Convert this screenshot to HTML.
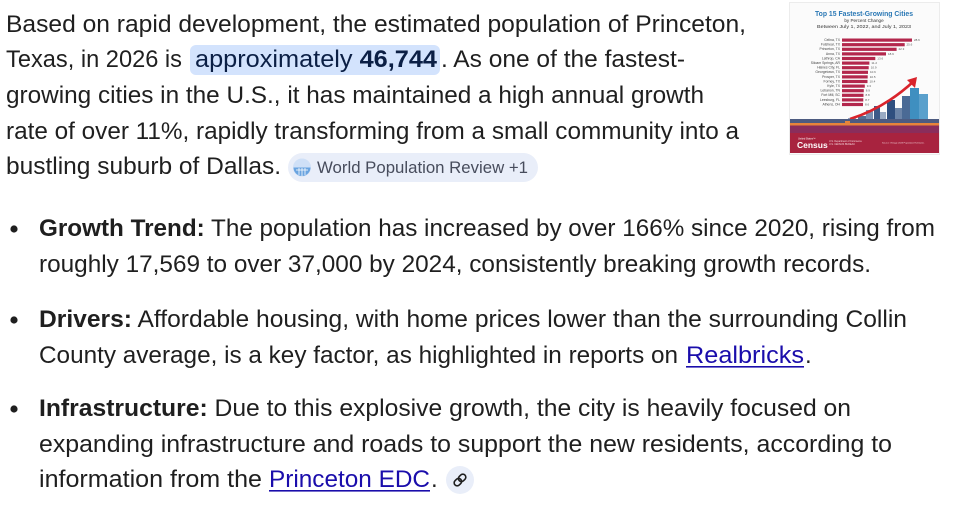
<!DOCTYPE html>
<html>
<head>
<meta charset="utf-8">
<style>
  html,body{margin:0;padding:0;background:#fff;}
  body{width:969px;height:521px;overflow:hidden;}
  svg{display:block;}
  .t{font-family:"Liberation Sans",Arial,sans-serif;font-size:24px;fill:#1f1f1f;}
  .b{font-weight:bold;}
  .lk{fill:#1a0dab;}
  .hl{fill:#0b1f45;}
  .chip{font-family:"Liberation Sans",Arial,sans-serif;font-size:17px;fill:#474c5c;}
  .tiny{font-family:"Liberation Sans",Arial,sans-serif;}
</style>
</head>
<body>
<svg width="969" height="521" viewBox="0 0 969 521" xmlns="http://www.w3.org/2000/svg">
  <!-- Paragraph -->
  <text class="t" x="6" y="32" textLength="740" lengthAdjust="spacingAndGlyphs">Based on rapid development, the estimated population of Princeton,</text>

  <text class="t" x="6" y="67" textLength="176" lengthAdjust="spacingAndGlyphs">Texas, in 2026 is</text>
  <rect x="190" y="45" width="250" height="30" rx="6" fill="#d3e3fd"/>
  <text class="t hl" x="195" y="67" textLength="242" lengthAdjust="spacingAndGlyphs">approximately <tspan class="b">46,744</tspan></text>
  <text class="t" x="441" y="67" textLength="244" lengthAdjust="spacingAndGlyphs">. As one of the fastest-</text>

  <text class="t" x="6" y="103" textLength="698" lengthAdjust="spacingAndGlyphs">growing cities in the U.S., it has maintained a high annual growth</text>
  <text class="t" x="6" y="139" textLength="733" lengthAdjust="spacingAndGlyphs">rate of over 11%, rapidly transforming from a small community into a</text>
  <text class="t" x="6" y="174" textLength="275" lengthAdjust="spacingAndGlyphs">bustling suburb of Dallas.</text>

  <!-- chip -->
  <rect x="288" y="153" width="250" height="29" rx="14.5" fill="#e9eef9"/>
  <g>
    <circle cx="302" cy="167.5" r="9" fill="#cfe0f7"/>
    <path d="M293.5 167.5 A8.5 8.5 0 0 0 310.5 167.5 Z" fill="#6aa4e0"/>
    <line x1="296" y1="170" x2="308" y2="170" stroke="#fff" stroke-width="0.8"/>
    <line x1="299" y1="168" x2="299" y2="175" stroke="#fff" stroke-width="0.8"/>
    <line x1="302" y1="168" x2="302" y2="176" stroke="#fff" stroke-width="0.8"/>
    <line x1="305" y1="168" x2="305" y2="175" stroke="#fff" stroke-width="0.8"/>
  </g>
  <text class="chip" x="317" y="173" textLength="211" lengthAdjust="spacingAndGlyphs">World Population Review +1</text>

  <!-- Bullet 1 -->
  <circle cx="14" cy="229" r="3.6" fill="#1f1f1f"/>
  <text class="t" x="39" y="236" textLength="896" lengthAdjust="spacingAndGlyphs"><tspan class="b">Growth Trend:</tspan> The population has increased by over 166% since 2020, rising from</text>
  <text class="t" x="39" y="272" textLength="832" lengthAdjust="spacingAndGlyphs">roughly 17,569 to over 37,000 by 2024, consistently breaking growth records.</text>

  <!-- Bullet 2 -->
  <circle cx="14" cy="320" r="3.6" fill="#1f1f1f"/>
  <text class="t" x="39" y="327" textLength="868" lengthAdjust="spacingAndGlyphs"><tspan class="b">Drivers:</tspan> Affordable housing, with home prices lower than the surrounding Collin</text>
  <text class="t" x="39" y="363" textLength="639" lengthAdjust="spacingAndGlyphs">County average, is a key factor, as highlighted in reports on</text>
  <text class="t lk" x="686" y="363" textLength="118" lengthAdjust="spacingAndGlyphs">Realbricks</text>
  <rect x="686" y="366" width="118" height="1.6" fill="#1a0dab"/>
  <text class="t" x="805" y="363">.</text>

  <!-- Bullet 3 -->
  <circle cx="14" cy="409" r="3.6" fill="#1f1f1f"/>
  <text class="t" x="39" y="416" textLength="812" lengthAdjust="spacingAndGlyphs"><tspan class="b">Infrastructure:</tspan> Due to this explosive growth, the city is heavily focused on</text>
  <text class="t" x="39" y="452" textLength="853" lengthAdjust="spacingAndGlyphs">expanding infrastructure and roads to support the new residents, according to</text>
  <text class="t" x="39" y="487" textLength="223" lengthAdjust="spacingAndGlyphs">information from the</text>
  <text class="t lk" x="269" y="487" textLength="161" lengthAdjust="spacingAndGlyphs">Princeton EDC</text>
  <rect x="269" y="490" width="161" height="1.6" fill="#1a0dab"/>
  <text class="t" x="431" y="487">.</text>

  <!-- link icon chip -->
  <circle cx="460" cy="480" r="14" fill="#e9eef9"/>
  <g transform="translate(460,480) rotate(-45)" fill="none" stroke="#1f1f1f" stroke-width="1.6">
    <rect x="-7" y="-3" width="8" height="6" rx="3"/>
    <rect x="-1" y="-3" width="8" height="6" rx="3"/>
  </g>

  <!-- Thumbnail -->
  <g>
    <rect x="789.5" y="2.5" width="150" height="152" fill="#fbfbfb" stroke="#ececec"/>
    <text class="tiny" x="864" y="16" font-size="7" font-weight="bold" fill="#2a78b5" text-anchor="middle" textLength="98" lengthAdjust="spacingAndGlyphs">Top 15 Fastest-Growing Cities</text>
    <text class="tiny" x="864" y="22" font-size="4.6" fill="#333" text-anchor="middle">by Percent Change</text>
    <text class="tiny" x="864" y="28" font-size="4.6" fill="#333" text-anchor="middle" textLength="94" lengthAdjust="spacingAndGlyphs">Between July 1, 2022, and July 1, 2023</text>
    <g font-size="3.4" class="tiny" fill="#444">
      <text x="840" y="41" text-anchor="end">Celina, TX</text>
      <text x="840" y="45.6" text-anchor="end">Fulshear, TX</text>
      <text x="840" y="50.2" text-anchor="end">Princeton, TX</text>
      <text x="840" y="54.8" text-anchor="end">Anna, TX</text>
      <text x="840" y="59.4" text-anchor="end">Lathrop, CA</text>
      <text x="840" y="64" text-anchor="end">Siloam Springs, AR</text>
      <text x="840" y="68.6" text-anchor="end">Haines City, FL</text>
      <text x="840" y="73.2" text-anchor="end">Georgetown, TX</text>
      <text x="840" y="77.8" text-anchor="end">Prosper, TX</text>
      <text x="840" y="82.4" text-anchor="end">Forney, TX</text>
      <text x="840" y="87" text-anchor="end">Kyle, TX</text>
      <text x="840" y="91.6" text-anchor="end">Lebanon, TN</text>
      <text x="840" y="96.2" text-anchor="end">Fort Mill, SC</text>
      <text x="840" y="100.8" text-anchor="end">Leesburg, FL</text>
      <text x="840" y="105.4" text-anchor="end">Athens, OH</text>
    </g>
    <g fill="#b3274c">
      <rect x="842" y="38.5" width="70" height="3.2"/>
      <rect x="842" y="43.1" width="62.7" height="3.2"/>
      <rect x="842" y="47.7" width="54.6" height="3.2"/>
      <rect x="842" y="52.3" width="44" height="3.2"/>
      <rect x="842" y="56.9" width="33.3" height="3.2"/>
      <rect x="842" y="61.5" width="27.4" height="3.2"/>
      <rect x="842" y="66.1" width="26.7" height="3.2"/>
      <rect x="842" y="70.7" width="26" height="3.2"/>
      <rect x="842" y="75.3" width="25.7" height="3.2"/>
      <rect x="842" y="79.9" width="25.5" height="3.2"/>
      <rect x="842" y="84.5" width="22.8" height="3.2"/>
      <rect x="842" y="89.1" width="21.8" height="3.2"/>
      <rect x="842" y="93.7" width="21.5" height="3.2"/>
      <rect x="842" y="98.3" width="21.3" height="3.2"/>
      <rect x="842" y="102.9" width="21" height="3.2"/>
    </g>
    <g font-size="3" class="tiny" fill="#555">
      <text x="914" y="41">28.6</text>
      <text x="906.5" y="45.6">25.6</text>
      <text x="898.5" y="50.2">22.3</text>
      <text x="888" y="54.8">18.9</text>
      <text x="877.3" y="59.4">13.6</text>
      <text x="871.4" y="64">11.2</text>
      <text x="870.7" y="68.6">10.9</text>
      <text x="870" y="73.2">10.6</text>
      <text x="869.7" y="77.8">10.5</text>
      <text x="869.5" y="82.4">10.4</text>
      <text x="866.8" y="87">9.3</text>
      <text x="865.8" y="91.6">8.9</text>
      <text x="865.5" y="96.2">8.8</text>
      <text x="865.3" y="100.8">8.7</text>
      <text x="865" y="105.4">8.6</text>
    </g>
    <!-- buildings -->
    <g>
      <rect x="858" y="116" width="8" height="8" fill="#4f6f95"/>
      <rect x="866" y="110" width="7" height="14" fill="#7a90b2"/>
      <rect x="874" y="106" width="6" height="18" fill="#3c5a88"/>
      <rect x="880" y="112" width="6" height="12" fill="#9aabc4"/>
      <rect x="887" y="100" width="8" height="24" fill="#2f4f7f"/>
      <rect x="895" y="108" width="7" height="16" fill="#6b84a8"/>
      <rect x="902" y="96" width="8" height="28" fill="#4a6a95"/>
      <rect x="910" y="88" width="9" height="36" fill="#3f8fc0"/>
      <rect x="919" y="94" width="9" height="30" fill="#5aa0cc"/>
      <rect x="848" y="118" width="8" height="6" fill="#8aa0bf"/>
    </g>
    <!-- arrow -->
    <path d="M850 119 Q885 108 914 81" fill="none" stroke="#d9232b" stroke-width="2.6"/>
    <polygon points="917,77 907,80 915,88" fill="#d9232b"/>
    <!-- stripes -->
    <rect x="790" y="119" width="149" height="4" fill="#4d5b80"/>
    <rect x="790" y="123" width="149" height="2.5" fill="#e7843a"/>
    <rect x="790" y="125.5" width="149" height="7.5" fill="#8a2d5b"/>
    <rect x="845" y="121" width="5" height="4" fill="#e7843a"/>
    <rect x="790" y="133" width="149" height="20" fill="#a8233f"/>
    <text class="tiny" x="797" y="148" font-size="8.5" font-weight="bold" fill="#fff">Census</text>
    <text class="tiny" x="798" y="139.5" font-size="2.5" fill="#fff">United States™</text>
    <text class="tiny" x="829" y="142" font-size="2.4" fill="#f3d6dc">U.S. Department of Commerce</text>
    <text class="tiny" x="829" y="145" font-size="2.4" fill="#f3d6dc">U.S. CENSUS BUREAU</text>
    <text class="tiny" x="882" y="143.5" font-size="2.2" fill="#f3d6dc">Source: Vintage 2023 Population Estimates</text>
  </g>
</svg>
</body>
</html>
